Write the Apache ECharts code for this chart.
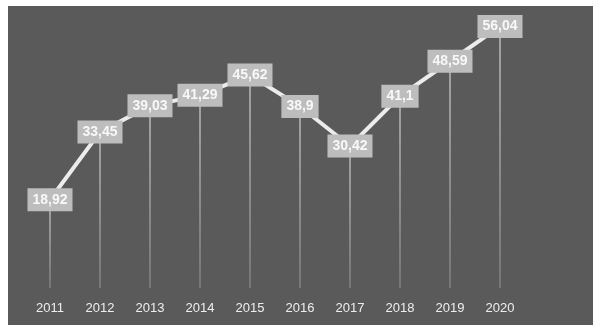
<!DOCTYPE html>
<html>
<head>
<meta charset="utf-8">
<script src="https://cdn.jsdelivr.net/npm/echarts@6/dist/echarts.min.js"></script>
<style>
html,body{margin:0;padding:0;background:#ffffff;width:600px;height:335px;overflow:hidden;}
#c{position:absolute;left:8px;top:6px;width:585px;height:319px;background:#5a5a5a;}
</style>
</head>
<body>
<div id="c"></div>
<script>
var years = ['2011','2012','2013','2014','2015','2016','2017','2018','2019','2020'];
var values = [18.92, 33.45, 39.03, 41.29, 45.62, 38.9, 30.42, 41.1, 48.59, 56.04];

var chart = echarts.init(document.getElementById('c'), null, {renderer:'canvas'});
chart.setOption({
  backgroundColor: '#5a5a5a',
  animation: false,
  grid: {left: 17, right: 68, top: 2, bottom: 37},
  xAxis: {
    type: 'category',
    data: years,
    boundaryGap: true,
    axisLine: {show: false},
    axisTick: {show: false},
    axisLabel: {color: '#eeeeee', fontSize: 13, fontFamily: 'Liberation Sans', margin: 14}
  },
  yAxis: {
    type: 'value',
    min: 0,
    max: 60,
    show: false,
    splitLine: {show: false}
  },
  series: [
    {
      type: 'bar',
      data: values,
      barWidth: 1,
      itemStyle: {color: new echarts.graphic.LinearGradient(0, 0, 0, 1, [
        {offset: 0, color: 'rgba(255,255,255,0.9)'},
        {offset: 1, color: 'rgba(255,255,255,0.35)'}
      ])},
      z: 1,
      silent: true
    },
    {
      type: 'line',
      data: values,
      z: 3,
      symbol: 'circle',
      symbolSize: 2,
      showSymbol: true,
      lineStyle: {color: '#ececec', width: 4, cap: 'round'},
      itemStyle: {color: '#ececec'},
      label: {
        show: true,
        position: 'inside',
        formatter: function (p) { return String(p.value).replace('.', ','); },
        color: '#f8f8f8',
        fontSize: 14,
        fontWeight: 'bold',
        fontFamily: 'Liberation Sans',
        backgroundColor: '#bdbdbd',
        padding: [5, 5, 4, 5]
      }
    }
  ]
});
</script>
</body>
</html>
